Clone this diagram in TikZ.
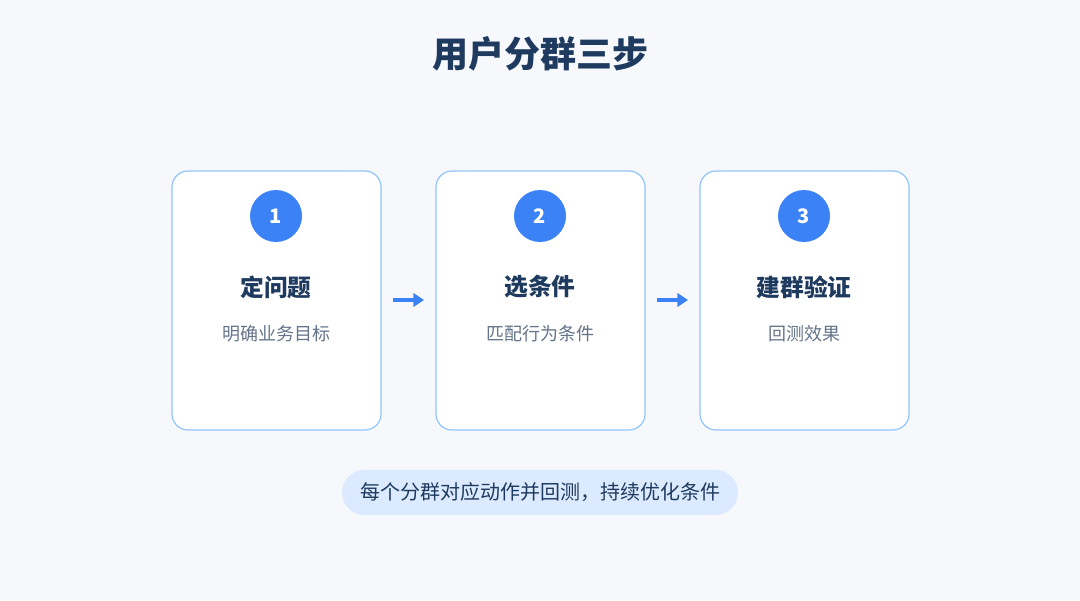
\documentclass[tikz,border=0pt]{standalone}
\usepackage{fontspec}
\usepackage{tikz}
\usetikzlibrary{arrows.meta}
\setmainfont{Noto Sans CJK SC}
\definecolor{bgc}{HTML}{F6F8FC}
\definecolor{navy}{HTML}{1E3A5F}
\definecolor{bluec}{HTML}{3B82F6}
\definecolor{edgec}{HTML}{93C5FD}
\definecolor{greyc}{HTML}{64748B}
\definecolor{pillc}{HTML}{DBEAFE}
\tikzset{
  card/.style={draw=edgec, fill=white, rounded corners=12pt, line width=0.9pt,
    minimum width=156.75pt, minimum height=194.25pt},
  num/.style={circle, fill=bluec, text=white, minimum size=39pt, inner sep=0pt,
    font=\fontsize{15pt}{15pt}\selectfont\bfseries},
  head/.style={text=navy, font=\fontsize{17.8pt}{17.8pt}\selectfont\bfseries},
  sub/.style={text=greyc, font=\fontsize{13.5pt}{13.5pt}\selectfont},
  flow/.style={-{Triangle[length=8pt,width=10pt]}, draw=bluec, line width=3pt}
}
\begin{document}
\begin{tikzpicture}[x=0.75pt,y=-0.75pt]
    \fill[bgc] (0,0) rectangle (1080,600);
    \useasboundingbox (0,0) rectangle (1080,600);
    \node[text=navy, font=\fontsize{27pt}{27pt}\selectfont\bfseries] (title) at (540,54) {用户分群三步};
    % cards
    \node[card] (c1) at (276.5,300.5) {};
    \node[card] (c2) at (540.5,300.5) {};
    \node[card] (c3) at (804.5,300.5) {};
    \node[num] (n1) at (276,216) {1};
    \node[num] (n2) at (540,216) {2};
    \node[num] (n3) at (804,216) {3};
    \node[head] (h1) at (276,287) {定问题};
    \node[head] (h2) at (540,287) {选条件};
    \node[head] (h3) at (804,287) {建群验证};
    \node[sub] (s1) at (276,334) {明确业务目标};
    \node[sub] (s2) at (540,334) {匹配行为条件};
    \node[sub] (s3) at (804,334) {回测效果};
    % arrows
    \coordinate (a1) at (393,300);
    \coordinate (b1) at (424,300);
    \coordinate (a2) at (657,300);
    \coordinate (b2) at (688,300);
    \draw[flow] (a1) -- (b1);
    \draw[flow] (a2) -- (b2);
    % note
    \node[fill=pillc, rounded corners=17pt, minimum width=297pt, minimum height=34pt,
      text=navy, font=\fontsize{15pt}{15pt}\selectfont] (note) at (540,492.5)
      {每个分群对应动作并回测，持续优化条件};
\end{tikzpicture}
\end{document}
